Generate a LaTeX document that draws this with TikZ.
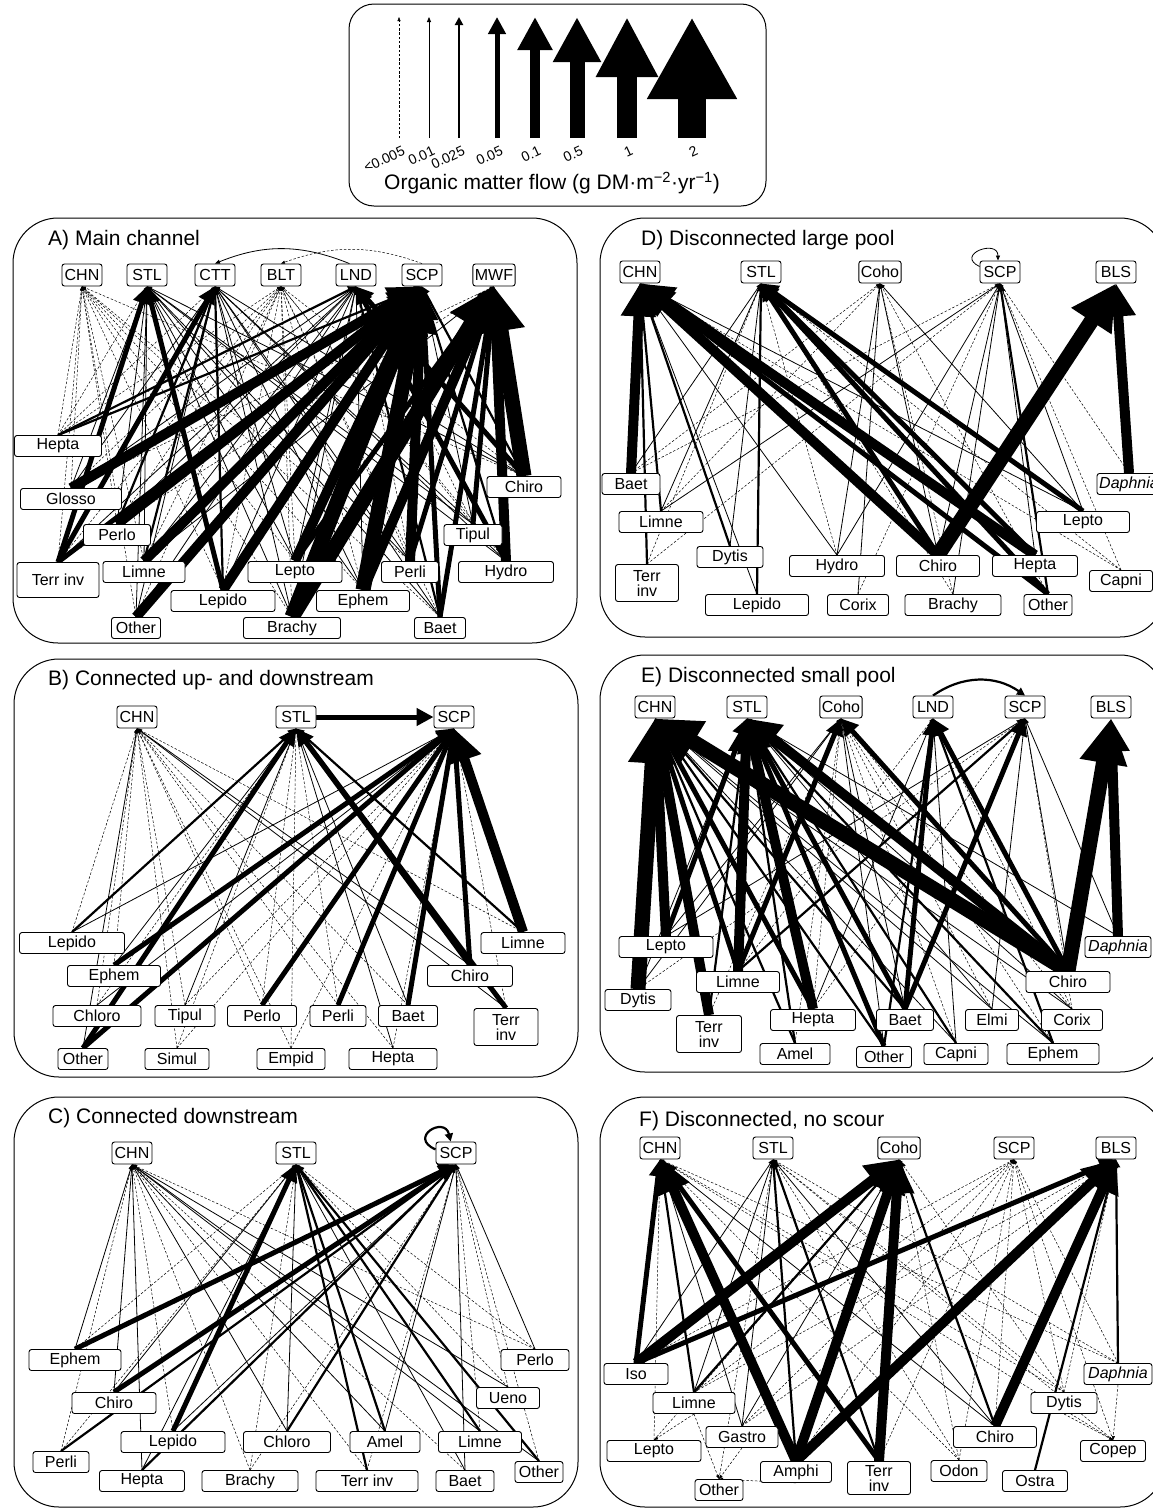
\documentclass[tikz,border=0pt]{standalone}
\usepackage{fontspec}
\setmainfont{Liberation Sans}
\usetikzlibrary{arrows.meta,backgrounds}
\tikzset{
  fish/.style={draw, line width=0.9pt, rounded corners=2.5pt, fill=white, inner sep=2pt, minimum width=40pt, minimum height=22pt, font=\fontsize{16}{17}\selectfont},
  taxon/.style={draw, line width=0.9pt, rounded corners=2.5pt, fill=white, inner sep=2pt, minimum height=21pt, align=center, font=\fontsize{16}{15}\selectfont},
  panel/.style={draw, line width=1pt, rounded corners=45pt},
  paneltitle/.style={anchor=west, inner sep=0pt, font=\fontsize{21}{22}\selectfont},
  flow0/.style={line width=0.5pt, dash pattern=on 2.5pt off 1.8pt, -{Triangle[length=4pt,width=3pt]}},
  flow1/.style={line width=0.8pt, -{Triangle[length=5pt,width=4pt]}},
  flow2/.style={line width=2.2pt, -{Triangle[length=8pt,width=8pt]}},
  flow3/.style={line width=5pt, -{Triangle[length=17pt,width=17pt]}},
  flow4/.style={line width=10pt, -{Triangle[length=33pt,width=33pt]}},
  flow5/.style={line width=15pt, -{Triangle[length=45pt,width=45pt]}},
  flow6/.style={line width=20pt, -{Triangle[length=60pt,width=58pt]}},
  flow7/.style={line width=28pt, -{Triangle[length=82pt,width=84pt]}}
}
\begin{document}
\begin{tikzpicture}[x=1pt,y=1pt]
\useasboundingbox (0,0) rectangle (1153,-1510);

\draw[panel, rounded corners=25pt] (349,-4) rectangle (766,-206);
\foreach \x/\w/\t in {399/flow0/{<0.005}, 429/flow1/0.01, 459/flow2/0.025, 497/flow3/0.05, 535/flow4/0.1, 577/flow5/0.5, 627/flow6/1, 692/flow7/2} {
  \coordinate (base\x) at (\x,-138);
  \coordinate (tip\x) at (\x,-17);
  \draw[\w] (base\x) -- (tip\x);
  \node[rotate=25, anchor=east, inner sep=0pt, font=\fontsize{14}{14}\selectfont] (lab\x) at (\x+5,-150) {\t};
}
\node[font=\fontsize{21}{22}\selectfont] (legcap) at (552,-183) {Organic matter flow (g DM·m\textsuperscript{−2}·yr\textsuperscript{−1})};

\draw[panel] (13,-218) rectangle (577,-643);
\draw[panel] (14,-659) rectangle (578,-1077);
\draw[panel] (14,-1097) rectangle (578,-1507);
\draw[panel] (600,-218) rectangle (1165,-637);
\draw[panel] (600,-655) rectangle (1165,-1072);
\draw[panel] (600,-1097) rectangle (1165,-1507);
\node[paneltitle] (titleA) at (48,-240) {A) Main channel};
\node[paneltitle] (titleB) at (48,-680) {B) Connected up- and downstream};
\node[paneltitle] (titleC) at (48,-1118) {C) Connected downstream};
\node[paneltitle] (titleD) at (641,-240) {D) Disconnected large pool};
\node[paneltitle] (titleE) at (641,-677) {E) Disconnected small pool};
\node[paneltitle] (titleF) at (639,-1121) {F) Disconnected, no scour};

\node[fish] (aCHN) at (82,-275) {CHN};
\node[fish] (aSTL) at (147,-275) {STL};
\node[fish] (aCTT) at (215,-275) {CTT};
\node[fish] (aBLT) at (281,-275) {BLT};
\node[fish] (aLND) at (356,-275) {LND};
\node[fish] (aSCP) at (422,-275) {SCP};
\node[fish] (aMWF) at (494,-275) {MWF};
\node[taxon, minimum width=87pt] (aHepta) at (58,-446) {Hepta};
\node[taxon, minimum width=101pt] (aGlosso) at (71,-499) {Glosso};
\node[taxon, minimum width=67pt] (aPerlo) at (117,-535) {Perlo};
\node[taxon, minimum width=82pt, minimum height=35pt] (aTerr) at (58,-580) {Terr inv};
\node[taxon, minimum width=82pt] (aLimne) at (144,-572) {Limne};
\node[taxon, minimum width=104pt] (aLepido) at (223,-601) {Lepido};
\node[taxon, minimum width=94pt] (aLepto) at (295,-572) {Lepto};
\node[taxon, minimum width=93pt] (aEphem) at (363,-601) {Ephem};
\node[taxon, minimum width=97pt] (aBrachy) at (292,-628) {Brachy};
\node[taxon, minimum width=49pt] (aOther) at (136,-628) {Other};
\node[taxon, minimum width=57pt] (aPerli) at (410,-572) {Perli};
\node[taxon, minimum width=58pt] (aTipul) at (473,-535) {Tipul};
\node[taxon, minimum width=95pt] (aHydro) at (506,-572) {Hydro};
\node[taxon, minimum width=74pt] (aChiro) at (524,-487) {Chiro};
\node[taxon, minimum width=51pt] (aBaet) at (440,-628) {Baet};

\node[fish] (bCHN) at (137,-717) {CHN};
\node[fish] (bSTL) at (296,-717) {STL};
\node[fish] (bSCP) at (454,-717) {SCP};
\node[taxon, minimum width=105pt] (bLepido) at (72,-943) {Lepido};
\node[taxon, minimum width=84pt] (bLimne) at (523,-943) {Limne};
\node[taxon, minimum width=93pt] (bEphem) at (114,-976) {Ephem};
\node[taxon, minimum width=85pt] (bChiro) at (470,-976) {Chiro};
\node[taxon, minimum width=88pt] (bChloro) at (97,-1016) {Chloro};
\node[taxon, minimum width=60pt] (bTipul) at (185,-1016) {Tipul};
\node[taxon, minimum width=69pt] (bPerlo) at (262,-1016) {Perlo};
\node[taxon, minimum width=56pt] (bPerli) at (338,-1016) {Perli};
\node[taxon, minimum width=59pt] (bBaet) at (408,-1016) {Baet};
\node[taxon, minimum width=64pt, minimum height=37pt] (bTerr) at (506,-1027) {Terr\\inv};
\node[taxon, minimum width=50pt] (bOther) at (83,-1059) {Other};
\node[taxon, minimum width=64pt] (bSimul) at (177,-1059) {Simul};
\node[taxon, minimum width=68pt] (bEmpid) at (291,-1059) {Empid};
\node[taxon, minimum width=88pt] (bHepta) at (393,-1059) {Hepta};

\node[fish] (cCHN) at (132,-1153) {CHN};
\node[fish] (cSTL) at (296,-1153) {STL};
\node[fish] (cSCP) at (456,-1153) {SCP};
\node[taxon, minimum width=92pt] (cEphem) at (75,-1360) {Ephem};
\node[taxon, minimum width=68pt] (cPerlo) at (535,-1360) {Perlo};
\node[taxon, minimum width=84pt] (cChiro) at (114,-1403) {Chiro};
\node[taxon, minimum width=63pt] (cUeno) at (508,-1398) {Ueno};
\node[taxon, minimum width=104pt] (cLepido) at (173,-1442) {Lepido};
\node[taxon, minimum width=87pt] (cChloro) at (287,-1442) {Chloro};
\node[taxon, minimum width=70pt] (cAmel) at (385,-1442) {Amel};
\node[taxon, minimum width=83pt] (cLimne) at (480,-1442) {Limne};
\node[taxon, minimum width=56pt] (cPerli) at (61,-1462) {Perli};
\node[taxon, minimum width=48pt] (cOther) at (539,-1472) {Other};
\node[taxon, minimum width=85pt] (cHepta) at (142,-1481) {Hepta};
\node[taxon, minimum width=96pt] (cBrachy) at (250,-1481) {Brachy};
\node[taxon, minimum width=102pt] (cTerr) at (367,-1481) {Terr inv};
\node[taxon, minimum width=58pt] (cBaet) at (465,-1481) {Baet};

\node[fish] (dCHN) at (640,-272) {CHN};
\node[fish] (dSTL) at (761,-272) {STL};
\node[fish] (dCoho) at (880,-272) {Coho};
\node[fish] (dSCP) at (1000,-272) {SCP};
\node[fish] (dBLS) at (1116,-272) {BLS};
\node[taxon, minimum width=58pt] (dBaet) at (631,-484) {Baet};
\node[taxon, minimum width=64pt] (dDaphnia) at (1129,-484) {\itshape Daphnia};
\node[taxon, minimum width=84pt] (dLimne) at (661,-522) {Limne};
\node[taxon, minimum width=93pt] (dLepto) at (1083,-522) {Lepto};
\node[taxon, minimum width=66pt] (dDytis) at (730,-557) {Dytis};
\node[taxon, minimum width=63pt, minimum height=37pt] (dTerr) at (647,-583) {Terr\\inv};
\node[taxon, minimum width=95pt] (dHydro) at (837,-566) {Hydro};
\node[taxon, minimum width=83pt] (dChiro) at (938,-566) {Chiro};
\node[taxon, minimum width=85pt] (dHepta) at (1035,-566) {Hepta};
\node[taxon, minimum width=63pt] (dCapni) at (1121,-581) {Capni};
\node[taxon, minimum width=103pt] (dLepido) at (757,-605) {Lepido};
\node[taxon, minimum width=61pt] (dCorix) at (858,-605) {Corix};
\node[taxon, minimum width=96pt] (dBrachy) at (953,-605) {Brachy};
\node[taxon, minimum width=48pt] (dOther) at (1048,-605) {Other};

\node[fish] (eCHN) at (655,-707) {CHN};
\node[fish] (eSTL) at (747,-707) {STL};
\node[fish] (eCoho) at (841,-707) {Coho};
\node[fish] (eLND) at (933,-707) {LND};
\node[fish] (eSCP) at (1025,-707) {SCP};
\node[fish] (eBLS) at (1111,-707) {BLS};
\node[taxon, minimum width=94pt] (eLepto) at (666,-947) {Lepto};
\node[taxon, minimum width=66pt] (eDaphnia) at (1118,-947) {\itshape Daphnia};
\node[taxon, minimum width=83pt] (eLimne) at (738,-982) {Limne};
\node[taxon, minimum width=84pt] (eChiro) at (1068,-982) {Chiro};
\node[taxon, minimum width=66pt] (eDytis) at (638,-1000) {Dytis};
\node[taxon, minimum width=85pt] (eHepta) at (813,-1020) {Hepta};
\node[taxon, minimum width=57pt] (eBaet) at (905,-1020) {Baet};
\node[taxon, minimum width=53pt] (eElmi) at (992,-1020) {Elmi};
\node[taxon, minimum width=61pt] (eCorix) at (1072,-1020) {Corix};
\node[taxon, minimum width=65pt, minimum height=37pt] (eTerr) at (709,-1034) {Terr\\inv};
\node[taxon, minimum width=70pt] (eAmel) at (795,-1054) {Amel};
\node[taxon, minimum width=55pt] (eOther) at (884,-1057) {Other};
\node[taxon, minimum width=64pt] (eCapni) at (956,-1054) {Capni};
\node[taxon, minimum width=92pt] (eEphem) at (1053,-1054) {Ephem};

\node[fish] (fCHN) at (660,-1148) {CHN};
\node[fish] (fSTL) at (773,-1148) {STL};
\node[fish] (fCoho) at (899,-1148) {Coho};
\node[fish] (fSCP) at (1014,-1148) {SCP};
\node[fish] (fBLS) at (1116,-1148) {BLS};
\node[taxon, minimum width=64pt] (fIso) at (636,-1374) {Iso};
\node[taxon, minimum width=68pt] (fDaphnia) at (1118,-1374) {\itshape Daphnia};
\node[taxon, minimum width=82pt] (fLimne) at (694,-1403) {Limne};
\node[taxon, minimum width=66pt] (fDytis) at (1064,-1403) {Dytis};
\node[taxon, minimum width=72pt] (fGastro) at (742,-1437) {Gastro};
\node[taxon, minimum width=83pt] (fChiro) at (995,-1437) {Chiro};
\node[taxon, minimum width=94pt] (fLepto) at (654,-1451) {Lepto};
\node[taxon, minimum width=65pt] (fCopep) at (1113,-1451) {Copep};
\node[taxon, minimum width=71pt] (fAmphi) at (796,-1472) {Amphi};
\node[taxon, minimum width=63pt, minimum height=33pt] (fTerr) at (879,-1478) {Terr\\inv};
\node[taxon, minimum width=56pt] (fOdon) at (959,-1471) {Odon};
\node[taxon, minimum width=65pt] (fOstra) at (1035,-1481) {Ostra};
\node[taxon, minimum width=48pt] (fOther) at (719,-1490) {Other};

\begin{pgfonlayer}{background}
\foreach \q/\w in {Hepta/flow0, Glosso/flow0, Perlo/flow0, Terr/flow0, Limne/flow0, Other/flow0, Lepido/flow0, Lepto/flow0, Brachy/flow0, Ephem/flow0, Perli/flow0, Baet/flow0, Chiro/flow0}
  \draw[\w] (a\q.north) -- (aCHN.south);
\foreach \q/\w in {Hepta/flow0, Glosso/flow1, Perlo/flow1, Terr/flow3, Limne/flow1, Other/flow1, Lepido/flow3, Lepto/flow1, Brachy/flow1, Ephem/flow1, Perli/flow1, Baet/flow1, Tipul/flow1, Hydro/flow1, Chiro/flow1}
  \draw[\w] (a\q.north) -- (aSTL.south);
\foreach \q/\w in {Hepta/flow0, Glosso/flow1, Perlo/flow2, Terr/flow3, Limne/flow2, Other/flow1, Lepido/flow2, Lepto/flow1, Brachy/flow1, Ephem/flow1, Perli/flow1, Baet/flow1, Tipul/flow1, Hydro/flow1, Chiro/flow1}
  \draw[\w] (a\q.north) -- (aCTT.south);
\foreach \q in {Hepta, Glosso, Perlo, Terr, Limne, Other, Lepido, Lepto, Brachy, Ephem, Perli, Baet, Tipul, Hydro, Chiro}
  \draw[flow0] (a\q.north) -- (aBLT.south);
\foreach \q/\w in {Hepta/flow2, Glosso/flow1, Perlo/flow1, Terr/flow1, Limne/flow1, Other/flow1, Lepido/flow1, Lepto/flow1, Brachy/flow1, Ephem/flow1, Perli/flow0, Baet/flow2, Tipul/flow0, Hydro/flow3, Chiro/flow3}
  \draw[\w] (a\q.north) -- (aLND.south);
\foreach \q/\w in {Hepta/flow2, Glosso/flow4, Perlo/flow4, Terr/flow3, Limne/flow4, Other/flow4, Lepido/flow4, Lepto/flow4, Brachy/flow5, Ephem/flow5, Perli/flow4, Baet/flow3, Tipul/flow1, Hydro/flow2, Chiro/flow2}
  \draw[\w] (a\q.north) -- (aSCP.south);
\foreach \q/\w in {Glosso/flow0, Terr/flow0, Limne/flow1, Lepto/flow3, Brachy/flow5, Ephem/flow4, Perli/flow3, Baet/flow3, Tipul/flow3, Hydro/flow4, Chiro/flow5}
  \draw[\w] (a\q.north) -- (aMWF.south);
\draw[flow1] (aLND.120) to[bend right=22] (aCTT.north);
\draw[flow0] (aSCP.north) to[bend right=20] (aBLT.north);

\foreach \q/\w in {Lepido/flow0, Ephem/flow0, Chloro/flow0, Other/flow1, Tipul/flow0, Simul/flow0, Perlo/flow0, Empid/flow0, Perli/flow0, Baet/flow0, Hepta/flow0, Chiro/flow1, Terr/flow1, Limne/flow0}
  \draw[\w] (b\q.north) -- (bCHN.south);
\foreach \q/\w in {Lepido/flow2, Ephem/flow1, Chloro/flow0, Other/flow3, Tipul/flow1, Simul/flow0, Perlo/flow0, Empid/flow0, Perli/flow0, Baet/flow1, Hepta/flow1, Chiro/flow3, Limne/flow2, Terr/flow3}
  \draw[\w] (b\q.north) -- (bSTL.south);
\foreach \q/\w in {Lepido/flow1, Ephem/flow3, Chloro/flow1, Other/flow3, Tipul/flow0, Simul/flow0, Perlo/flow3, Empid/flow0, Perli/flow3, Baet/flow3, Hepta/flow0, Chiro/flow3, Limne/flow4, Terr/flow0}
  \draw[\w] (b\q.north) -- (bSCP.south);
\draw[flow3] (bSTL.east) -- (bSCP.west);

\foreach \q/\w in {Ephem/flow1, Chiro/flow1, Hepta/flow1, Lepido/flow0, Perli/flow0, Chloro/flow1, Brachy/flow0, Amel/flow1, Terr/flow0, Limne/flow1, Baet/flow0, Ueno/flow1, Other/flow1, Perlo/flow0}
  \draw[\w] (c\q.north) -- (cCHN.south);
\foreach \q/\w in {Ephem/flow0, Chiro/flow1, Lepido/flow3, Hepta/flow1, Perli/flow0, Chloro/flow1, Brachy/flow0, Amel/flow2, Terr/flow2, Limne/flow2, Baet/flow1, Ueno/flow0, Other/flow2, Perlo/flow0}
  \draw[\w] (c\q.north) -- (cSTL.south);
\foreach \q/\w in {Ephem/flow3, Chiro/flow3, Perli/flow2, Lepido/flow1, Hepta/flow2, Chloro/flow2, Brachy/flow0, Amel/flow1, Terr/flow0, Limne/flow0, Baet/flow1, Ueno/flow0, Other/flow0, Perlo/flow1}
  \draw[\w] (c\q.north) -- (cSCP.south);
\draw[flow2] (cSCP.170) .. controls +(-28,12) and +(-6,26) .. (cSCP.115);

\foreach \q/\w in {Baet/flow4, Limne/flow2, Terr/flow2, Dytis/flow2, Lepido/flow1, Hydro/flow1, Chiro/flow4, Hepta/flow4, Other/flow3, Lepto/flow1, Capni/flow0}
  \draw[\w] (d\q.north) -- (dCHN.south);
\foreach \q/\w in {Baet/flow1, Limne/flow1, Terr/flow0, Lepido/flow2, Dytis/flow1, Hydro/flow0, Chiro/flow3, Hepta/flow3, Other/flow3, Lepto/flow3, Capni/flow0, Brachy/flow0}
  \draw[\w] (d\q.north) -- (dSTL.south);
\foreach \q/\w in {Baet/flow0, Hydro/flow1, Corix/flow1, Chiro/flow1, Lepto/flow1, Other/flow0, Brachy/flow0, Limne/flow0}
  \draw[\w] (d\q.north) -- (dCoho.south);
\foreach \q/\w in {Baet/flow0, Limne/flow1, Terr/flow0, Hydro/flow1, Chiro/flow1, Other/flow2, Hepta/flow1, Lepto/flow1, Capni/flow0, Corix/flow0, Daphnia/flow0, Brachy/flow1}
  \draw[\w] (d\q.north) -- (dSCP.south);
\foreach \q/\w in {Chiro/flow5, Daphnia/flow4}
  \draw[\w] (d\q.north) -- (dBLS.south);
\draw[flow1] (dSCP.165) .. controls +(-25,12) and +(0,22) .. (dSCP.100);

\foreach \q/\w in {Dytis/flow5, Lepto/flow4, Terr/flow4, Limne/flow3, Chiro/flow5, Hepta/flow3, Other/flow2, Amel/flow2, Baet/flow2, Capni/flow1, Elmi/flow1, Ephem/flow1, Corix/flow1}
  \draw[\w] (e\q.north) -- (eCHN.south);
\foreach \q/\w in {Limne/flow4, Hepta/flow4, Lepto/flow3, Dytis/flow1, Terr/flow2, Amel/flow2, Other/flow3, Baet/flow3, Capni/flow2, Ephem/flow2, Chiro/flow4, Elmi/flow1, Corix/flow1, Daphnia/flow1}
  \draw[\w] (e\q.north) -- (eSTL.south);
\foreach \q/\w in {Limne/flow3, Lepto/flow1, Chiro/flow3, Dytis/flow1, Hepta/flow0, Baet/flow1, Other/flow1, Amel/flow0, Capni/flow0, Elmi/flow0, Ephem/flow0, Corix/flow0, Terr/flow0}
  \draw[\w] (e\q.north) -- (eCoho.south);
\foreach \q/\w in {Baet/flow3, Chiro/flow3, Other/flow2, Ephem/flow2, Capni/flow1, Hepta/flow1, Corix/flow0, Limne/flow0}
  \draw[\w] (e\q.north) -- (eLND.south);
\foreach \q/\w in {Baet/flow3, Limne/flow2, Lepto/flow1, Chiro/flow1, Elmi/flow1, Corix/flow0, Daphnia/flow1, Hepta/flow0, Dytis/flow0}
  \draw[\w] (e\q.north) -- (eSCP.south);
\foreach \q/\w in {Chiro/flow5, Daphnia/flow4}
  \draw[\w] (e\q.north) -- (eBLS.south);
\draw[flow2] (eLND.north) to[bend left=35] (eSCP.north);

\foreach \q/\w in {Iso/flow3, Limne/flow2, Amphi/flow4, Terr/flow3, Gastro/flow1, Chiro/flow1, Lepto/flow0, Odon/flow0, Dytis/flow0, Daphnia/flow0, Copep/flow0}
  \draw[\w] (f\q.north) -- (fCHN.south);
\foreach \q/\w in {Iso/flow1, Limne/flow1, Gastro/flow1, Amphi/flow2, Terr/flow2, Chiro/flow1, Other/flow0, Dytis/flow0, Odon/flow0, Daphnia/flow0, Copep/flow0}
  \draw[\w] (f\q.north) -- (fSTL.south);
\foreach \q/\w in {Iso/flow4, Limne/flow2, Amphi/flow4, Terr/flow4, Chiro/flow2, Gastro/flow1, Odon/flow0, Dytis/flow0, Lepto/flow0}
  \draw[\w] (f\q.north) -- (fCoho.south);
\foreach \q in {Iso, Limne, Gastro, Amphi, Terr, Chiro, Dytis, Daphnia, Copep, Odon}
  \draw[flow0] (f\q.north) -- (fSCP.south);
\foreach \q/\w in {Iso/flow3, Amphi/flow4, Chiro/flow4, Ostra/flow2, Daphnia/flow2, Limne/flow0, Gastro/flow0, Dytis/flow0}
  \draw[\w] (f\q.north) -- (fBLS.south);
\foreach \q/\r in {Limne/Lepto, Limne/Other, Gastro/Other, Amphi/Other, Dytis/Copep, Daphnia/Copep}
  \draw[flow0] (f\q.south) -- (f\r.north);
\end{pgfonlayer}
\end{tikzpicture}
\end{document}
